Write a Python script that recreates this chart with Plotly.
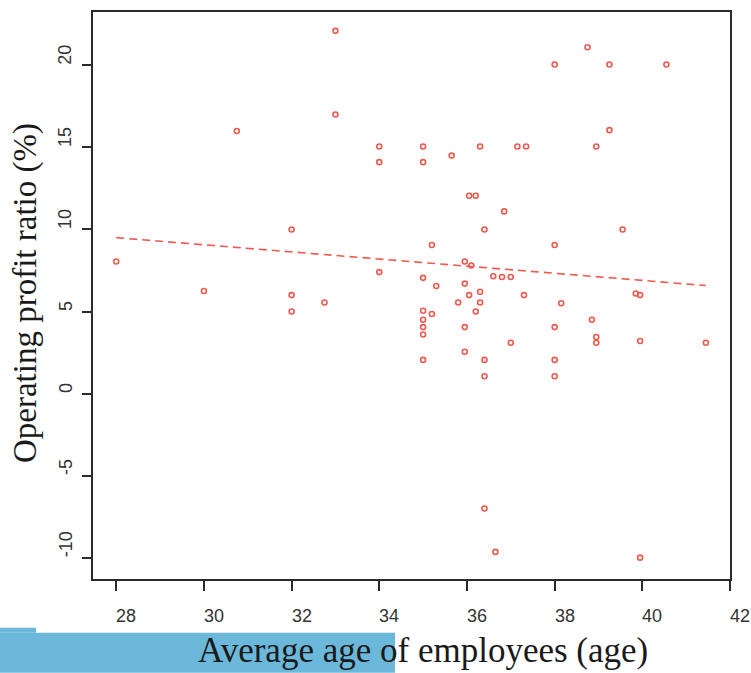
import plotly.graph_objects as go

# Data
age = [28, 30, 30.75, 32, 32, 32, 32.75, 33, 33, 34, 34, 34,
       35, 35, 35, 35, 35, 35, 35, 35, 35.2, 35.2, 35.3, 35.65, 35.8,
       35.95, 35.95, 35.95, 35.95, 36.05, 36.05, 36.1, 36.2, 36.2,
       36.3, 36.3, 36.3, 36.4, 36.4, 36.4, 36.4, 36.6, 36.65, 36.8,
       36.85, 37, 37, 37.15, 37.3, 37.35, 38, 38, 38, 38, 38, 38.15,
       38.75, 38.85, 38.95, 38.95, 38.95, 39.25, 39.25, 39.55, 39.85,
       39.95, 39.95, 39.95, 40.55, 41.45]
profit = [8.05, 6.25, 16, 10, 6, 5, 5.55, 22.1, 17, 15.05, 14.1, 7.4,
          15.05, 14.1, 7.05, 5.05, 4.5, 4.05, 3.6, 2.05, 9.05, 4.85, 6.55, 14.5, 5.55,
          8.05, 6.7, 4.05, 2.55, 12.05, 6.0, 7.8, 12.05, 5.0,
          15.05, 6.2, 5.55, 10, 2.05, 1.05, -7, 7.15, -9.65, 7.1,
          11.1, 7.1, 3.1, 15.05, 6.0, 15.05, 20.05, 9.05, 4.05, 2.05, 1.05, 5.5,
          21.1, 4.5, 15.05, 3.45, 3.1, 20.05, 16.05, 10, 6.1,
          6.0, 3.2, -10, 20.05, 3.1]

trend_x = [28, 41.45]
trend_y = [9.5, 6.58]

x_ticks = [28, 30, 32, 34, 36, 38, 40, 42]
x_tick_labels = ["28", "30", "32", "34", "36", "38", "40", "42"]
y_ticks = [-10, -5, 0, 5, 10, 15, 20]
y_tick_labels = ["-10", "-5", "0", "5", "10", "15", "20"]

red = "#EE5A50"
tick_font = dict(family="Liberation Sans, Arial, sans-serif", size=18, color="#333333")
title_font = "Liberation Serif, Times New Roman, serif"

# plot-area geometry in pixels (for paper-coordinate placement of texts)
W, H = 751, 673
L, R, T, B = 93, 21, 10, 94
PW, PH = W - L - R, H - T - B


def px_x(px):
    return (px - L) / PW


def px_y(py):
    return (H - B - py) / PH


fig = go.Figure()
fig.add_trace(go.Scatter(
    x=trend_x, y=trend_y, mode="lines",
    line=dict(color=red, width=1.6, dash="8px,5px"),
    hoverinfo="skip", showlegend=False))
fig.add_trace(go.Scatter(
    x=age, y=profit, mode="markers",
    marker=dict(symbol="circle-open", size=5, color=red, line=dict(width=1.6, color=red)),
    showlegend=False))

axis_common = dict(
    showgrid=False, zeroline=False, showline=True, mirror=True,
    linecolor="#2a2a2a", linewidth=1.8,
    ticks="outside", tickcolor="#2a2a2a", tickwidth=1.5,
    showticklabels=False,
)

fig.update_xaxes(range=[27.47, 42.0], tickvals=x_ticks, ticklen=10, **axis_common)
fig.update_yaxes(range=[-11.3, 23.25], tickvals=y_ticks, ticklen=9, **axis_common)

# tick labels (start-anchored at the tick, as in the reference)
for t, lab in zip(x_ticks, x_tick_labels):
    fig.add_annotation(text=lab, x=t, xref="x", y=px_y(616), yref="paper",
                       xanchor="left", yanchor="middle", xshift=-2,
                       showarrow=False, font=tick_font)
for t, lab in zip(y_ticks, y_tick_labels):
    fig.add_annotation(text=lab, x=px_x(65.5), xref="paper", y=t, yref="y",
                       xanchor="center", yanchor="bottom", yshift=-2, textangle=-90,
                       showarrow=False, font=tick_font)

# blue strip artifact at bottom-left of the picture
fig.add_shape(type="rect", xref="paper", yref="paper",
              x0=px_x(0), x1=px_x(395), y0=px_y(673), y1=px_y(633),
              fillcolor="#6CB8DA", line=dict(width=0), layer="below")
fig.add_shape(type="rect", xref="paper", yref="paper",
              x0=px_x(0), x1=px_x(36), y0=px_y(633), y1=px_y(628),
              fillcolor="#6CB8DA", line=dict(width=0), layer="below")

fig.add_annotation(text="Average age of employees (age)", xref="paper", yref="paper",
                   x=px_x(423), y=px_y(651), showarrow=False,
                   xanchor="center", yanchor="middle",
                   font=dict(family=title_font, size=35, color="#1a1a1a"))
fig.add_annotation(text="Operating profit ratio (%)", xref="paper", yref="paper",
                   x=px_x(25), y=px_y(292), showarrow=False, textangle=-90,
                   xanchor="center", yanchor="middle",
                   font=dict(family=title_font, size=33, color="#1a1a1a"))

fig.update_layout(
    width=W, height=H,
    margin=dict(l=L, r=R, t=T, b=B),
    paper_bgcolor="white", plot_bgcolor="white",
    showlegend=False,
)

fig.write_html("out.html")
